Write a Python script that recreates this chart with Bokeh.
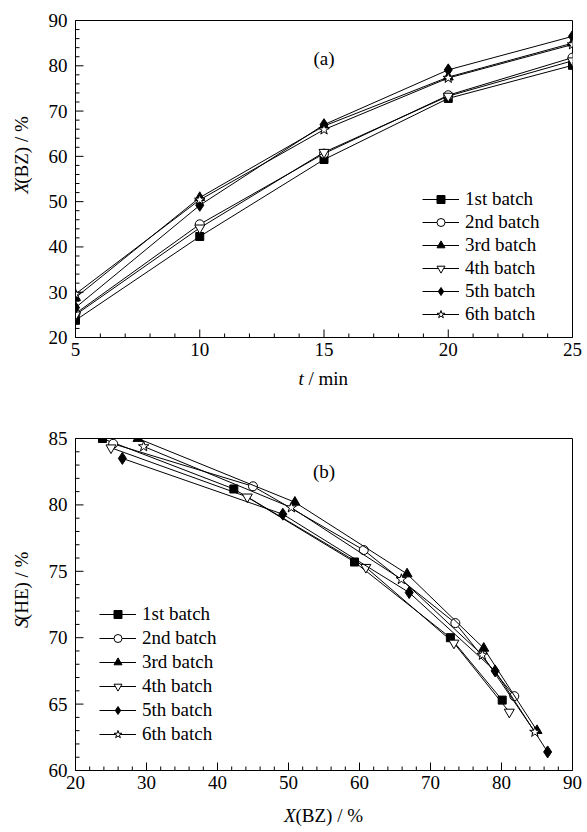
import math
from bokeh.plotting import figure
from bokeh.models import Range1d, SingleIntervalTicker, Label, Legend, LegendItem
from bokeh.layouts import column, row
from bokeh.embed import file_html
from bokeh.resources import INLINE

# ---------------- data ----------------
t_min = [5, 10, 15, 20, 25]
batch_names = ["1st batch", "2nd batch", "3rd batch", "4th batch", "5th batch", "6th batch"]

# conversion of benzene X(BZ) / % vs time
x_bz_1 = [23.8, 42.3, 59.3, 72.8, 80.1]
x_bz_2 = [25.3, 45.0, 60.6, 73.5, 81.8]
x_bz_3 = [28.8, 50.9, 66.7, 77.5, 85.0]
x_bz_4 = [25.0, 44.2, 60.9, 73.3, 81.1]
x_bz_5 = [26.6, 49.2, 67.0, 79.1, 86.5]
x_bz_6 = [29.6, 50.4, 65.9, 77.3, 84.7]

# selectivity S(HE) / % vs conversion
s_he_1 = [85.0, 81.2, 75.7, 70.0, 65.3]
s_he_2 = [84.6, 81.4, 76.6, 71.1, 65.6]
s_he_3 = [85.0, 80.2, 74.8, 69.2, 63.0]
s_he_4 = [84.3, 80.6, 75.3, 69.6, 64.4]
s_he_5 = [83.5, 79.3, 73.4, 67.5, 61.4]
s_he_6 = [84.4, 79.8, 74.4, 68.7, 62.9]

x_series = [x_bz_1, x_bz_2, x_bz_3, x_bz_4, x_bz_5, x_bz_6]
s_series = [s_he_1, s_he_2, s_he_3, s_he_4, s_he_5, s_he_6]

# ---------------- styles ----------------
FONT = "Liberation Serif"
FS = "19px"
FL = "19px"
markers = ["square", "circle", "triangle", "inverted_triangle", "diamond", "star"]
fills = ["black", "white", "black", "white", "black", "white"]
sizes = [8, 9, 10, 10, 12, 11]

FRAME_W = 497
FRAME_HA = 317
FRAME_HB = 332


def tick_positions(lo, hi, step):
    n = int(round((hi - lo) / step))
    return [lo + k * step for k in range(n + 1)]


def inner_ticks(p, xr, yr, xstep, ystep, frame_w, frame_h):
    # tick marks pointing into the frame (major 8 px, minor 4 px)
    dx = (xr[1] - xr[0]) / frame_w
    dy = (yr[1] - yr[0]) / frame_h
    xmaj = tick_positions(xr[0], xr[1], xstep)
    xmin = [v for v in tick_positions(xr[0], xr[1], xstep / 5) if v not in xmaj]
    ymaj = tick_positions(yr[0], yr[1], ystep)
    ymin = [v for v in tick_positions(yr[0], yr[1], ystep / 5) if v not in ymaj]
    for xs, ln in ((xmaj, 8), (xmin, 4)):
        p.segment(x0=xs, y0=[yr[0]] * len(xs), x1=xs, y1=[yr[0] + ln * dy] * len(xs),
                  line_color="black", line_width=1)
    for ys, ln in ((ymaj, 8), (ymin, 4)):
        p.segment(x0=[xr[0]] * len(ys), y0=ys, x1=[xr[0] + ln * dx] * len(ys), y1=ys,
                  line_color="black", line_width=1)


def style_axes(p, xint, yint):
    p.xaxis.ticker = SingleIntervalTicker(interval=xint, num_minor_ticks=5)
    p.yaxis.ticker = SingleIntervalTicker(interval=yint, num_minor_ticks=5)
    for ax in (p.xaxis[0], p.yaxis[0]):
        ax.major_tick_in = 0
        ax.major_tick_out = 0
        ax.minor_tick_in = 0
        ax.minor_tick_out = 0
        ax.axis_line_color = "black"
        ax.major_label_text_font = FONT
        ax.major_label_text_font_size = FS
        ax.major_label_text_color = "black"
    p.xaxis.major_label_standoff = 5
    p.yaxis.major_label_standoff = 8
    p.xgrid.visible = False
    p.ygrid.visible = False
    p.outline_line_color = "black"
    p.outline_line_alpha = 1
    p.outline_line_width = 1
    p.background_fill_color = "white"
    p.border_fill_color = "white"


def add_series(p, xs_list, ys_list):
    items = []
    for i in range(6):
        lr = p.line(xs_list[i], ys_list[i], line_color="black", line_width=1)
        sr = p.scatter(xs_list[i], ys_list[i], marker=markers[i], size=sizes[i],
                       line_color="black", fill_color=fills[i], line_width=1)
        items.append(LegendItem(label=batch_names[i], renderers=[lr, sr]))
    return items


def make_legend(items, loc, spacing):
    return Legend(items=items, location=loc, border_line_alpha=0,
                  background_fill_alpha=0, padding=0, margin=0,
                  glyph_width=37, glyph_height=20, label_height=20,
                  spacing=spacing, label_standoff=6,
                  label_text_font=FONT, label_text_font_size=FL,
                  label_text_color="black")


def text_fig(w, h):
    f = figure(width=w, height=h, x_range=Range1d(0, w), y_range=Range1d(0, h),
               output_backend="svg", toolbar_location=None,
               x_axis_location=None, y_axis_location=None,
               min_border=0, min_border_left=0, min_border_right=0,
               min_border_top=0, min_border_bottom=0)
    f.xgrid.visible = False
    f.ygrid.visible = False
    f.outline_line_color = None
    f.background_fill_color = "white"
    f.border_fill_color = "white"
    return f


def put(f, x, y, text, italic=False, angle=0.0):
    f.add_layout(Label(x=x, y=y, text=text, angle=angle, text_align="left",
                       text_baseline="middle", text_font=FONT, text_font_size=FL,
                       text_color="black",
                       text_font_style="italic" if italic else "normal"))


TOTAL_W = 587
YLAB_W = 40
MAIN_W = TOTAL_W - YLAB_W

# ---------------- panel (a) ----------------
HA = 365
pa = figure(width=MAIN_W, height=HA, x_range=Range1d(5, 25), y_range=Range1d(20, 90),
            output_backend="svg", toolbar_location=None,
            min_border_left=35, min_border_right=15, min_border_top=20, min_border_bottom=28)
style_axes(pa, 5, 10)
inner_ticks(pa, (5, 25), (20, 90), 5, 10, FRAME_W, FRAME_HA)
items_a = add_series(pa, [t_min] * 6, x_series)
pa.add_layout(make_legend(items_a, (347, 12), 1), "center")
pa.add_layout(Label(x=15, y=81.6, text="(a)", text_align="center", text_baseline="middle",
                    text_font=FONT, text_font_size=FL, text_color="black"))

ylab_a = text_fig(YLAB_W, HA)
put(ylab_a, 21, 165.5, "X", italic=True, angle=math.pi / 2)
put(ylab_a, 21, 177, "(BZ) / %", angle=math.pi / 2)

xlab_a = text_fig(TOTAL_W, 30)
put(xlab_a, 298, 17, "t", italic=True)
put(xlab_a, 308, 17, "/ min")

# ---------------- panel (b) ----------------
HB = 403
pb = figure(width=MAIN_W, height=HB, x_range=Range1d(20, 90), y_range=Range1d(60, 85),
            output_backend="svg", toolbar_location=None,
            min_border_left=35, min_border_right=15, min_border_top=43, min_border_bottom=28)
style_axes(pb, 10, 5)
inner_ticks(pb, (20, 90), (60, 85), 10, 5, FRAME_W, FRAME_HB)
items_b = add_series(pb, x_series, s_series)
pb.add_layout(make_legend(items_b, (24, 25), 2), "center")
pb.add_layout(Label(x=55, y=82.5, text="(b)", text_align="center", text_baseline="middle",
                    text_font=FONT, text_font_size=FL, text_color="black"))

ylab_b = text_fig(YLAB_W, HB)
put(ylab_b, 21, 173, "S", italic=True, angle=math.pi / 2)
put(ylab_b, 21, 182.5, "(HE) / %", angle=math.pi / 2)

xlab_b = text_fig(TOTAL_W, 34)
put(xlab_b, 283.5, 17, "X", italic=True)
put(xlab_b, 295, 17, "(BZ) / %")

layout = column(row(ylab_a, pa, spacing=0), xlab_a,
                row(ylab_b, pb, spacing=0), xlab_b, spacing=0)
open("out.html", "w").write(file_html(layout, INLINE))
